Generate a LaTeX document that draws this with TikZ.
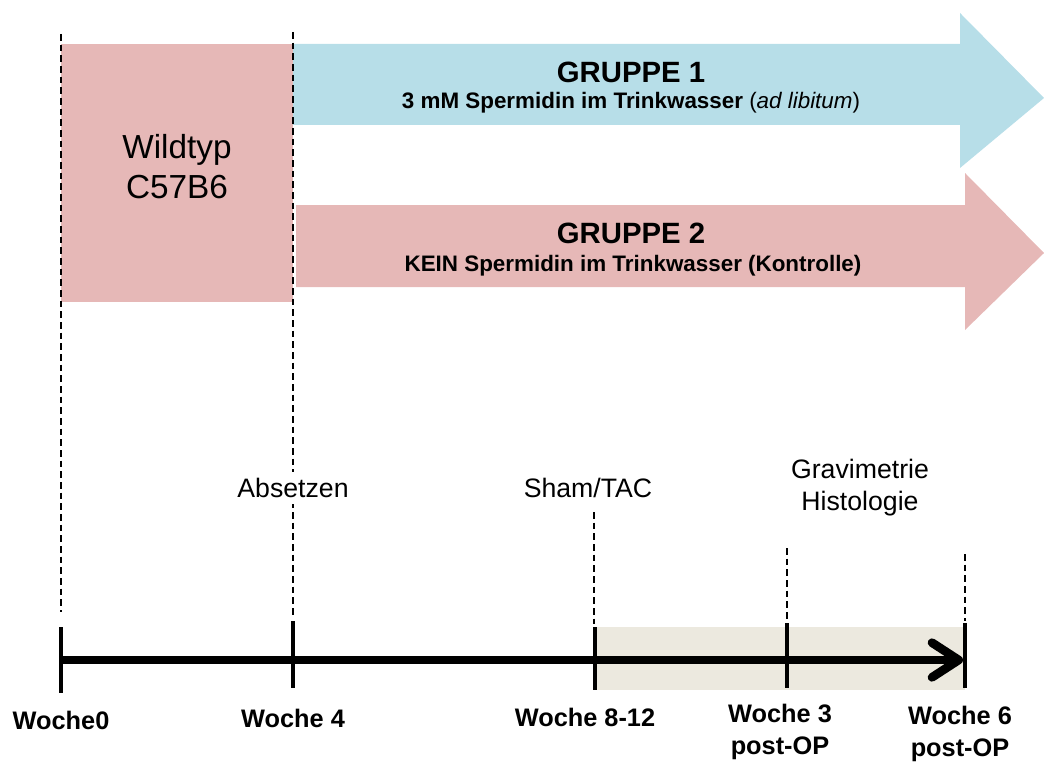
\documentclass[tikz,border=0pt]{standalone}
\usepackage{fontspec}
\setmainfont{Liberation Sans}
\usetikzlibrary{arrows.meta}

\definecolor{rosa}{RGB}{230,184,183}
\definecolor{hellblau}{RGB}{183,222,232}
\definecolor{beige}{RGB}{236,233,223}

\tikzset{every picture/.style={line width=0.75pt}}
\tikzset{
  guide/.style={line width=2.2pt, dash pattern=on 5pt off 3pt},
  tick/.style={line width=3.6pt},
  zeitachse/.style={line width=6.5pt, -{Straight Barb[length=20pt, width=26pt, round]}},
  gruppe/.style={font=\fontsize{22}{26}\selectfont\bfseries},
  unterzeile/.style={font=\fontsize{16.8}{20}\selectfont},
  ereignis/.style={font=\fontsize{20}{24}\selectfont, align=center, fill=white, inner xsep=8pt, inner ysep=5pt},
  woche/.style={font=\fontsize{19}{24}\selectfont\bfseries, align=center},
}

\begin{document}
\begin{tikzpicture}[x=0.75pt,y=0.75pt,yscale=-1]
\useasboundingbox (0,0) rectangle (1044,763);

%Shapes
\fill [color=rosa] (61,44) rectangle (293,302) ;
\fill [color=hellblau] (293,44) -- (960,44) -- (960,13) -- (1044,98) -- (960,168) -- (960,125) -- (293,125) -- cycle ;
\fill [color=rosa] (296,205) -- (965,205) -- (965,173) -- (1044,253) -- (965,330) -- (965,287) -- (296,287) -- cycle ;
\fill [color=beige] (595,627) rectangle (965,690) ;

%Coordinates on the time axis
\coordinate (w0) at (61,660) ;
\coordinate (w4) at (293,660) ;
\coordinate (w8) at (595,660) ;
\coordinate (p3) at (787,660) ;
\coordinate (p6) at (965,660) ;

%Dashed Lines
\coordinate (g0) at (61,34) ;
\coordinate (g0e) at (61,612) ;
\coordinate (g4) at (293,32) ;
\coordinate (g4e) at (293,618) ;
\coordinate (g8) at (594,512) ;
\coordinate (g8e) at (594,624) ;
\coordinate (g3) at (787,548) ;
\coordinate (g3e) at (787,621) ;
\coordinate (g6) at (965,554) ;
\coordinate (g6e) at (965,621) ;
\draw [guide] (g0) -- (g0e) ;
\draw [guide] (g4) -- (g4e) ;
\draw [guide] (g8) -- (g8e) ;
\draw [guide] (g3) -- (g3e) ;
\draw [guide] (g6) -- (g6e) ;

%Ticks
\draw [tick] (w0) ++(0,-33) -- ++(0,66) ;
\draw [tick] (w4) ++(0,-39) -- ++(0,67) ;
\draw [tick] (w8) ++(0,-33) -- ++(0,63) ;
\draw [tick] (p3) ++(0,-37) -- ++(0,65) ;
\draw [tick] (p6) ++(0,-37) -- ++(0,65) ;

%Time axis
\draw [zeitachse] (w0) -- ([xshift=-1.5pt]p6) ;

% Text Node
\node [font=\fontsize{25}{30}\selectfont, align=center] (wild) at (177,167) {Wildtyp\\C57B6};
% Text Node
\node [gruppe] (g1) at (631,72) {GRUPPE 1};
\node [unterzeile] (g1s) at (631,103) {\textbf{3 mM Spermidin im Trinkwasser} (\textit{ad libitum})};
% Text Node
\node [gruppe] (g2) at (631,233) {GRUPPE 2};
\node [unterzeile, font=\fontsize{16.8}{20}\selectfont\bfseries] (g2s) at (633,266) {KEIN Spermidin im Trinkwasser (Kontrolle)};

% Text Node
\node [ereignis] (abs) at (293,488) {Absetzen};
\node [ereignis] (op) at (588,488) {Sham/TAC};
\node [ereignis] (grav) at (860,488) {Gravimetrie\\Histologie};

% Text Node
\node [woche] (l0) at (61,720) {Woche0};
\node [woche] (l4) at (293,718) {Woche 4};
\node [woche] (l8) at (585,717) {Woche 8-12};
\node [woche] (l3) at (780,732) {Woche 3\\post-OP};
\node [woche] (l6) at (960,734) {Woche 6\\post-OP};

\end{tikzpicture}
\end{document}
